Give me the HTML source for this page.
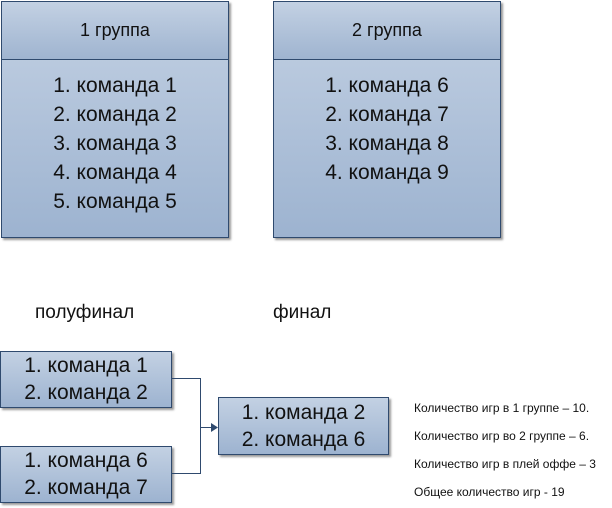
<!DOCTYPE html>
<html><head><meta charset="utf-8"><style>
body{margin:0;width:612px;height:508px;background:#fff;position:relative;font-family:"Liberation Sans",sans-serif;color:#111;overflow:hidden}
.b{position:absolute;box-sizing:border-box;border:1px solid #2f4a6e;background:linear-gradient(#c3d1e3,#9db3d0);box-shadow:2px 2px 2px #999}
.h{position:absolute;left:0;right:0;top:0;height:57px;border-bottom:1px solid #2f4a6e;background:linear-gradient(#c3d1e3,#9fb4d0);text-align:center;line-height:57px;font-size:18px}
.t{position:absolute;left:0;right:0;text-align:center;font-size:21px;line-height:29px}
.l{position:absolute;font-size:19px}
.s{position:absolute;left:414px;font-size:12px;white-space:nowrap}
</style></head><body>
<div class="b" style="left:1px;top:1px;width:228px;height:237px"><div class="h">1 группа</div>
<div class="t" style="top:69px">1. команда 1<br>2. команда 2<br>3. команда 3<br>4. команда 4<br>5. команда 5</div></div>
<div class="b" style="left:273px;top:1px;width:228px;height:237px"><div class="h">2 группа</div>
<div class="t" style="top:69px">1. команда 6<br>2. команда 7<br>3. команда 8<br>4. команда 9</div></div>
<div class="l" style="left:35px;top:302px">полуфинал</div>
<div class="l" style="left:273px;top:302px">финал</div>
<div class="b" style="left:0;top:351px;width:172px;height:57px"><div class="t" style="top:0;line-height:27px">1. команда 1<br>2. команда 2</div></div>
<div class="b" style="left:0;top:446px;width:172px;height:57px"><div class="t" style="top:0;line-height:27px">1. команда 6<br>2. команда 7</div></div>
<div class="b" style="left:218px;top:397px;width:171px;height:58px"><div class="t" style="top:1px;line-height:27px">1. команда 2<br>2. команда 6</div></div>
<svg style="position:absolute;left:0;top:0" width="612" height="508">
<path d="M172 378.5H200.5V473.5H172M200.5 427.5H212" fill="none" stroke="#2f4a6e" stroke-width="1"/>
<path d="M211 423L218 427.5L211 432Z" fill="#2f4a6e"/>
</svg>
<div class="s" style="top:401px">Количество игр в 1 группе – 10.</div>
<div class="s" style="top:429px">Количество игр во 2 группе – 6.</div>
<div class="s" style="top:457px">Количество игр в плей оффе – 3</div>
<div class="s" style="top:485px">Общее количество игр - 19</div>
</body></html>
